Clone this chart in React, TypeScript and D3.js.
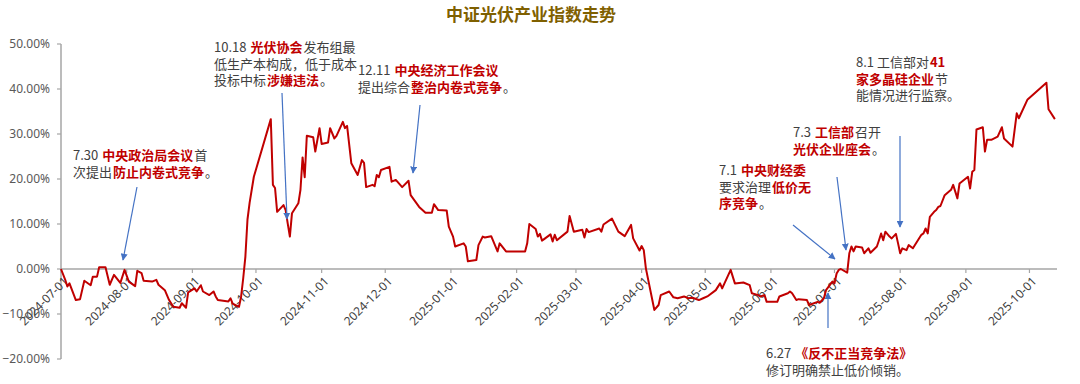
import React from "react";
import * as d3 from "d3";

// ---------------- DATA ----------------
const chartTitle = "中证光伏产业指数走势";

// [date, cumulative change %]
const indexPoints: [string, number][] = [
  ["2024-07-01", 0], ["2024-07-03", -2.4], ["2024-07-04", -3.9], ["2024-07-05", -3.2],
  ["2024-07-08", -6.9], ["2024-07-10", -6.7], ["2024-07-12", -2.6], ["2024-07-15", -3.6],
  ["2024-07-16", -1.7], ["2024-07-18", -1.7], ["2024-07-19", 0.4], ["2024-07-22", 0.4],
  ["2024-07-24", -3.5], ["2024-07-26", -1.3], ["2024-07-29", -3.1], ["2024-07-31", -0.2],
  ["2024-08-02", -2.8], ["2024-08-05", -3.8], ["2024-08-06", -0.4], ["2024-08-08", -0.9],
  ["2024-08-09", -2.6], ["2024-08-13", -2.8], ["2024-08-15", -2.4], ["2024-08-16", -3.5],
  ["2024-08-19", -4.7], ["2024-08-21", -6.9], ["2024-08-23", -8.4], ["2024-08-26", -8.6],
  ["2024-08-27", -7.6], ["2024-08-29", -8.6], ["2024-08-30", -5.2], ["2024-09-02", -4.3],
  ["2024-09-03", -5.0], ["2024-09-05", -3.6], ["2024-09-06", -5.0], ["2024-09-09", -5.8],
  ["2024-09-11", -5.0], ["2024-09-12", -6.1], ["2024-09-13", -6.9], ["2024-09-18", -7.2],
  ["2024-09-19", -6.5], ["2024-09-20", -7.7], ["2024-09-23", -8.4], ["2024-09-24", -6.1],
  ["2024-09-25", -2.0], ["2024-09-26", 2.7], ["2024-09-27", 11.0], ["2024-09-28", 14.7],
  ["2024-09-30", 20.5], ["2024-10-08", 33.3], ["2024-10-09", 18.7], ["2024-10-10", 18.0],
  ["2024-10-11", 12.7], ["2024-10-14", 14.2], ["2024-10-15", 13.1], ["2024-10-16", 10.1],
  ["2024-10-17", 7.2], ["2024-10-18", 12.4], ["2024-10-21", 14.6], ["2024-10-22", 17.6],
  ["2024-10-23", 24.8], ["2024-10-24", 20.4], ["2024-10-25", 29.6], ["2024-10-28", 29.3],
  ["2024-10-29", 26.1], ["2024-10-31", 31.3], ["2024-11-01", 27.8], ["2024-11-04", 28.1],
  ["2024-11-05", 31.3], ["2024-11-07", 29.0], ["2024-11-08", 29.6], ["2024-11-11", 32.7],
  ["2024-11-12", 31.3], ["2024-11-13", 31.8], ["2024-11-15", 23.5], ["2024-11-18", 20.9],
  ["2024-11-20", 24.2], ["2024-11-21", 23.6], ["2024-11-22", 18.2], ["2024-11-25", 18.7],
  ["2024-11-26", 18.4], ["2024-11-27", 20.9], ["2024-11-28", 20.4], ["2024-11-29", 22.0],
  ["2024-12-03", 22.7], ["2024-12-04", 19.4], ["2024-12-06", 19.8], ["2024-12-09", 18.2],
  ["2024-12-12", 19.6], ["2024-12-13", 16.4], ["2024-12-17", 13.8], ["2024-12-20", 12.5],
  ["2024-12-23", 12.5], ["2024-12-24", 14.4], ["2024-12-26", 13.1], ["2024-12-30", 13.0],
  ["2024-12-31", 9.4], ["2025-01-02", 7.2], ["2025-01-03", 5.0], ["2025-01-07", 5.7],
  ["2025-01-08", 5.0], ["2025-01-09", 1.7], ["2025-01-13", 2.0], ["2025-01-14", 5.3],
  ["2025-01-16", 7.2], ["2025-01-17", 7.0], ["2025-01-20", 7.3], ["2025-01-23", 3.9],
  ["2025-01-24", 5.7], ["2025-01-27", 3.9], ["2025-02-05", 3.9], ["2025-02-06", 5.7],
  ["2025-02-07", 10.0], ["2025-02-10", 8.9], ["2025-02-11", 7.2], ["2025-02-12", 7.8],
  ["2025-02-13", 6.3], ["2025-02-17", 7.7], ["2025-02-18", 6.1], ["2025-02-19", 7.6],
  ["2025-02-20", 6.4], ["2025-02-25", 8.3], ["2025-02-26", 11.8], ["2025-02-28", 8.3],
  ["2025-03-04", 8.7], ["2025-03-05", 7.0], ["2025-03-06", 8.9], ["2025-03-07", 8.2],
  ["2025-03-12", 9.0], ["2025-03-13", 8.3], ["2025-03-14", 9.9], ["2025-03-18", 11.2],
  ["2025-03-21", 8.3], ["2025-03-24", 7.3], ["2025-03-27", 9.8], ["2025-03-28", 6.8],
  ["2025-03-31", 4.1], ["2025-04-01", 5.1], ["2025-04-02", 4.2], ["2025-04-03", 0.15],
  ["2025-04-07", -9.1], ["2025-04-09", -8.0], ["2025-04-10", -5.8], ["2025-04-14", -5.0],
  ["2025-04-16", -6.3], ["2025-04-18", -6.5], ["2025-04-21", -6.1], ["2025-04-23", -6.5],
  ["2025-04-25", -6.4], ["2025-04-28", -6.9], ["2025-04-30", -6.5], ["2025-05-02", -6.1],
  ["2025-05-06", -4.7], ["2025-05-08", -3.2], ["2025-05-09", -4.3], ["2025-05-13", -0.2],
  ["2025-05-15", -3.2], ["2025-05-19", -3.0], ["2025-05-22", -3.6], ["2025-05-23", -5.4],
  ["2025-05-26", -5.8], ["2025-05-27", -6.1], ["2025-05-29", -5.8], ["2025-05-30", -7.3],
  ["2025-06-04", -7.3], ["2025-06-05", -6.1], ["2025-06-09", -5.4], ["2025-06-10", -5.0],
  ["2025-06-11", -5.4], ["2025-06-13", -6.9], ["2025-06-14", -6.7], ["2025-06-18", -6.9],
  ["2025-06-19", -8.0], ["2025-06-23", -7.3], ["2025-06-24", -7.5], ["2025-06-26", -6.5],
  ["2025-06-27", -4.7], ["2025-06-30", -2.8], ["2025-07-01", -3.2], ["2025-07-02", -1.0],
  ["2025-07-03", -0.2], ["2025-07-04", 0.0], ["2025-07-07", -0.8], ["2025-07-08", 3.5],
  ["2025-07-09", 5.0], ["2025-07-10", 3.9], ["2025-07-11", 5.0], ["2025-07-14", 4.8],
  ["2025-07-15", 3.5], ["2025-07-17", 4.6], ["2025-07-18", 3.6], ["2025-07-21", 5.0],
  ["2025-07-22", 6.4], ["2025-07-23", 7.9], ["2025-07-24", 6.4], ["2025-07-25", 8.3],
  ["2025-07-27", 7.2], ["2025-07-28", 6.8], ["2025-07-30", 7.8], ["2025-07-31", 5.7],
  ["2025-08-01", 3.5], ["2025-08-02", 4.6], ["2025-08-04", 4.2], ["2025-08-05", 5.3],
  ["2025-08-07", 4.6], ["2025-08-11", 7.6], ["2025-08-12", 7.9], ["2025-08-13", 9.0],
  ["2025-08-14", 7.9], ["2025-08-15", 11.6], ["2025-08-17", 12.7], ["2025-08-18", 13.1],
  ["2025-08-19", 13.8], ["2025-08-20", 14.0], ["2025-08-22", 16.4], ["2025-08-25", 17.6],
  ["2025-08-26", 18.7], ["2025-08-28", 15.7], ["2025-08-29", 19.0], ["2025-09-02", 20.5],
  ["2025-09-03", 17.9], ["2025-09-04", 21.6], ["2025-09-05", 22.0], ["2025-09-06", 31.0],
  ["2025-09-09", 31.5], ["2025-09-10", 26.1], ["2025-09-11", 28.7], ["2025-09-13", 28.7],
  ["2025-09-16", 29.4], ["2025-09-18", 31.5], ["2025-09-19", 29.0], ["2025-09-23", 27.2],
  ["2025-09-25", 34.6], ["2025-09-26", 33.5], ["2025-09-30", 37.6], ["2025-10-09", 41.4],
  ["2025-10-10", 35.5], ["2025-10-13", 33.3],
];

const xDomain: [string, string] = ["2024-07-01", "2025-10-14"];
const xTickDates = [
  "2024-07-01", "2024-08-01", "2024-09-01", "2024-10-01", "2024-11-01", "2024-12-01",
  "2025-01-01", "2025-02-01", "2025-03-01", "2025-04-01", "2025-05-01", "2025-06-01",
  "2025-07-01", "2025-08-01", "2025-09-01", "2025-10-01",
];
const yTicks = [-20, -10, 0, 10, 20, 30, 40, 50];

// annotation text: each line is a list of [text, highlighted]
type Seg = [string, boolean];
const noteJul30: Seg[][] = [
  [["7.30 ", false], ["中央政治局会议", true], ["首", false]],
  [["次提出", false], ["防止内卷式竞争", true], ["。", false]],
];
const noteOct18: Seg[][] = [
  [["10.18 ", false], ["光伏协会", true], ["发布组最", false]],
  [["低生产本构成，低于成本", false]],
  [["投标中标", false], ["涉嫌违法", true], ["。", false]],
];
const noteDec11: Seg[][] = [
  [["12.11 ", false], ["中央经济工作会议", true]],
  [["提出综合", false], ["整治内卷式竞争", true], ["。", false]],
];
const noteJul1: Seg[][] = [
  [["7.1 ", false], ["中央财经委", true]],
  [["要求治理", false], ["低价无", true]],
  [["序竞争", true], ["。", false]],
];
const noteJul3: Seg[][] = [
  [["7.3 ", false], ["工信部", true], ["召开", false]],
  [["光伏企业座会", true], ["。", false]],
];
const noteAug1: Seg[][] = [
  [["8.1 工信部对", false], ["41", true]],
  [["家多晶硅企业", true], ["节", false]],
  [["能情况进行监察。", false]],
];
const noteJun27: Seg[][] = [
  [["6.27 ", false], ["《反不正当竞争法》", true]],
  [["修订明确禁止低价倾销。", false]],
];

// ---------------- LAYOUT ----------------
const W = 1080;
const H = 384;
const plot = { left: 61, right: 1057, top: 44, bottom: 359 };

const RED = "#c00000";
const TXT = "#404040";
const BLUE = "#4472c4";
const AXIS = "#a6a6a6";
const CJK_NAME = "Noto Sans CJK SC";
const CJK = `'${CJK_NAME}', 'Noto Sans', sans-serif`;
const NOTE_SIZE = 13;
const SEG_GAP = 1;

const parse = d3.utcParse("%Y-%m-%d");

const notesLayout: { lines: Seg[][]; x: number; y: number }[] = [
  { lines: noteJul30, x: 73, y: 160 },
  { lines: noteOct18, x: 214, y: 52 },
  { lines: noteDec11, x: 358, y: 75 },
  { lines: noteJul1, x: 719, y: 175 },
  { lines: noteJul3, x: 793, y: 137 },
  { lines: noteAug1, x: 856, y: 67 },
  { lines: noteJun27, x: 766, y: 358 },
];

// arrows as [fromX, fromY, toX, toY] in pixels
const arrowsLayout: [number, number, number, number][] = [
  [137, 187, 123, 260],
  [282, 93, 287, 219],
  [420, 105, 413, 173],
  [793, 225, 835, 259],
  [837, 177, 846, 250],
  [900, 136, 900, 227],
  [828, 328, 828, 293],
];

let measureCtx: CanvasRenderingContext2D | null = null;
function measure(text: string, bold: boolean): number {
  if (!measureCtx && typeof document !== "undefined") {
    measureCtx = document.createElement("canvas").getContext("2d");
  }
  if (!measureCtx) return text.length * NOTE_SIZE;
  measureCtx.font = `${bold ? "bold " : ""}${NOTE_SIZE}px "${CJK_NAME}", sans-serif`;
  return measureCtx.measureText(text).width;
}

export default function App() {
  const x = d3
    .scaleUtc()
    .domain([parse(xDomain[0])!, parse(xDomain[1])!])
    .range([plot.left, plot.right]);
  const y = d3.scaleLinear().domain([-20, 50]).range([plot.bottom, plot.top]);

  const line = d3
    .line<[string, number]>()
    .x((d) => x(parse(d[0])!))
    .y((d) => y(d[1]))
    .curve(d3.curveLinear);

  const y0 = y(0);

  // place annotation segments one after another as separate text elements
  const noteTexts: { key: string; x: number; y: number; s: Seg }[] = [];
  notesLayout.forEach((n, i) => {
    n.lines.forEach((ln, j) => {
      let cx = n.x;
      const cy = n.y + j * 16.5;
      ln.forEach((s, k) => {
        const txt = s[0].replace(/\s+$/, "");
        const trail = s[0].length - txt.length;
        noteTexts.push({ key: `${i}-${j}-${k}`, x: cx, y: cy, s: [txt, s[1]] });
        cx += measure(txt, s[1]) + (trail ? measure(" ", false) * trail : 0) + SEG_GAP;
      });
    });
  });

  return (
    <svg
      width={W}
      height={H}
      style={{ position: "absolute", left: 0, top: 0, background: "#fff" }}
      xmlns="http://www.w3.org/2000/svg"
    >
      <defs>
        <marker
          id="ah"
          viewBox="0 0 10 10"
          refX="9"
          refY="5"
          markerWidth="7"
          markerHeight="7"
          markerUnits="userSpaceOnUse"
          orient="auto"
        >
          <path d="M0,0 L10,5 L0,10 z" fill={BLUE} />
        </marker>
      </defs>

      {/* title */}
      <text
        x={531}
        y={21}
        textAnchor="middle"
        fontFamily={CJK}
        fontSize={17}
        fontWeight="bold"
        fill="#7f6000"
      >
        {chartTitle}
      </text>

      {/* y axis */}
      <line x1={plot.left} x2={plot.left} y1={plot.top} y2={plot.bottom} stroke={AXIS} strokeWidth={1.5} />
      {yTicks.map((t) => (
        <g key={t}>
          <line x1={plot.left - 4} x2={plot.left} y1={y(t)} y2={y(t)} stroke={AXIS} strokeWidth={1.2} />
          <text
            x={plot.left - 11}
            y={y(t)}
            dy="0.35em"
            textAnchor="end"
            fontFamily="'Noto Sans', sans-serif"
            fontSize={12}
            fill="#595959"
          >
            {d3.format(".2f")(t) + "%"}
          </text>
        </g>
      ))}

      {/* x axis at zero */}
      <line x1={plot.left} x2={plot.right} y1={y0} y2={y0} stroke={AXIS} strokeWidth={1.5} />
      {xTickDates.map((d) => {
        const xp = x(parse(d)!);
        return (
          <g key={d}>
            <line x1={xp} x2={xp} y1={y0} y2={y0 + 4} stroke={AXIS} strokeWidth={1.2} />
            <text
              transform={`translate(${xp + 5},${y0 + 10}) rotate(-45)`}
              textAnchor="end"
              dy="0.35em"
              fontFamily="'Noto Sans', sans-serif"
              fontSize={12}
              fill="#404040"
            >
              {d}
            </text>
          </g>
        );
      })}

      {/* series */}
      <path d={line(indexPoints) || ""} fill="none" stroke={RED} strokeWidth={2} strokeLinejoin="round" />

      {/* arrows */}
      {arrowsLayout.map((a, i) => (
        <line
          key={i}
          x1={a[0]}
          y1={a[1]}
          x2={a[2]}
          y2={a[3]}
          stroke={BLUE}
          strokeWidth={1.2}
          markerEnd="url(#ah)"
        />
      ))}

      {/* annotations */}
      {noteTexts.map((t) => (
        <text
          key={t.key}
          x={t.x}
          y={t.y}
          fontFamily={CJK}
          fontSize={NOTE_SIZE}
          fill={t.s[1] ? RED : TXT}
          fontWeight={t.s[1] ? "bold" : "normal"}
        >
          {t.s[0]}
        </text>
      ))}
    </svg>
  );
}
